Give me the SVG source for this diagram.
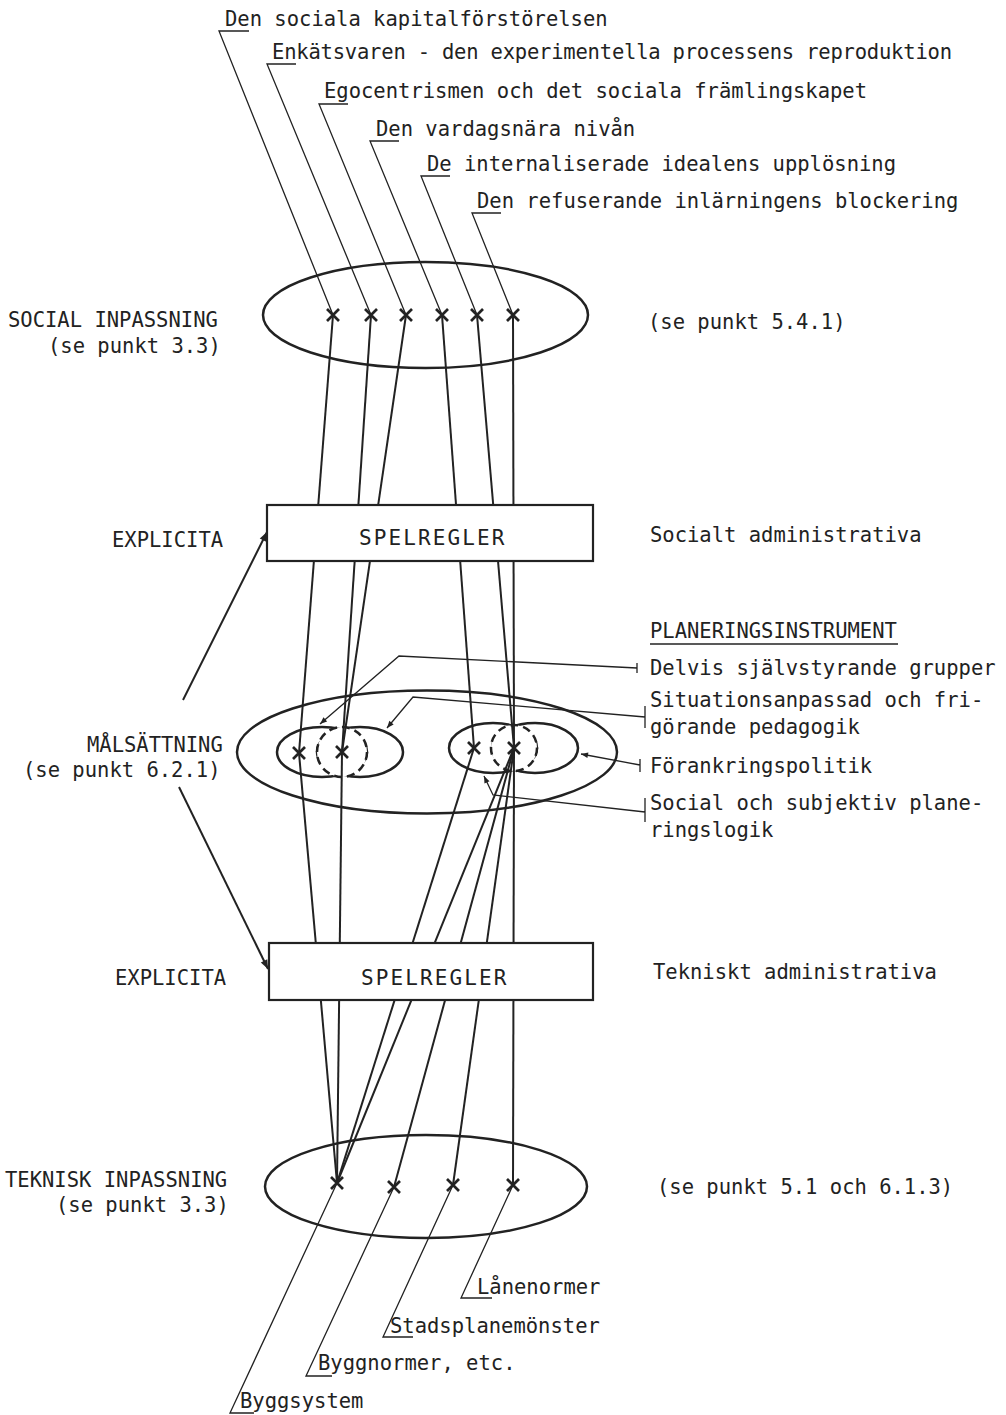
<svg xmlns="http://www.w3.org/2000/svg" xmlns:xlink="http://www.w3.org/1999/xlink" width="1006" height="1415" viewBox="0 0 1006 1415">
<style>
.t{font-family:"DejaVu Sans Mono","Liberation Mono",monospace;font-size:20.5px;fill:#222}
.sp{font-family:"DejaVu Sans Mono","Liberation Mono",monospace;font-size:21px;letter-spacing:2.1px;fill:#222}
.ln{stroke:#222;stroke-width:2;fill:none}
.th{stroke:#222;stroke-width:1.3;fill:none}
.el{stroke:#222;stroke-width:2.5;fill:none}
.dash{stroke-dasharray:8 5}
.box{stroke:#222;stroke-width:2.2;fill:#fff}
.xm{stroke:#222;stroke-width:2.7;fill:none}
</style>
<defs>
<path id="x" d="M-6,-6 L6,6 M6,-6 L-6,6"/>
<marker id="ah" viewBox="0 0 10 10" refX="10" refY="5" markerWidth="12" markerHeight="9" markerUnits="userSpaceOnUse" orient="auto"><path d="M0,1 L10,5 L0,9 z" fill="#222"/></marker>
<marker id="ahs" viewBox="0 0 10 10" refX="10" refY="5" markerWidth="10" markerHeight="7" markerUnits="userSpaceOnUse" orient="auto"><path d="M0,1 L10,5 L0,9 z" fill="#222"/></marker>
<mask id="mL" maskUnits="userSpaceOnUse" x="0" y="0" width="1006" height="1415"><rect width="1006" height="1415" fill="#fff"/><circle cx="342" cy="752" r="25" fill="#000"/></mask>
<mask id="mR" maskUnits="userSpaceOnUse" x="0" y="0" width="1006" height="1415"><rect width="1006" height="1415" fill="#fff"/><circle cx="514" cy="748" r="23" fill="#000"/></mask>
</defs>
<rect width="1006" height="1415" fill="#fff"/>

<g id="connectors">
  <!-- top leaders -->
  <path class="th" d="M249,31 H219 L333,315"/>
  <path class="th" d="M296,64 H267 L371,315"/>
  <path class="th" d="M348,104 H319 L406,315"/>
  <path class="th" d="M399,141 H370 L442,315"/>
  <path class="th" d="M450,176 H421 L477,315"/>
  <path class="th" d="M501,213 H472 L513,315"/>
  <!-- social to malsattning -->
  <path class="ln" d="M333,315 L299,753"/>
  <path class="ln" d="M371,315 L342,752"/>
  <path class="ln" d="M406,315 L342,752"/>
  <path class="ln" d="M442,315 L474,748"/>
  <path class="ln" d="M477,315 L514,748"/>
  <path class="ln" d="M513,315 L514,748"/>
  <!-- malsattning to teknisk -->
  <path class="ln" d="M299,753 L337,1183"/>
  <path class="ln" d="M342,752 L337,1183"/>
  <path class="ln" d="M474,748 L337,1183"/>
  <path class="ln" d="M514,748 L337,1183"/>
  <path class="ln" d="M514,748 L394,1187"/>
  <path class="ln" d="M514,748 L453,1185"/>
  <path class="ln" d="M514,748 L513,1185"/>
  <!-- bottom leaders -->
  <path class="th" d="M337,1183 L230,1413 H254"/>
  <path class="th" d="M394,1187 L306,1376 H332"/>
  <path class="th" d="M453,1185 L383,1337 H413"/>
  <path class="th" d="M513,1185 L461,1298 H492"/>
  <!-- planeringsinstrument leaders -->
  <path class="th" d="M637,663 V673 M637,668 L399,656 L320,724" marker-end="url(#ahs)"/>
  <path class="th" d="M645,706 V728 M645,717 L413,697 L387,728" marker-end="url(#ahs)"/>
  <path class="th" d="M640,759 V772 M640,765 L581,754" marker-end="url(#ahs)"/>
  <path class="th" d="M645,798 V822 M645,812 L493,795 L484,776" marker-end="url(#ahs)"/>
  <!-- malsattning arrows -->
  <path class="ln" d="M183,700 L267,532" marker-end="url(#ah)"/>
  <path class="ln" d="M179,787 L268,969" marker-end="url(#ah)"/>
</g>

<g id="top-labels">
  <text class="t" x="225" y="26">Den sociala kapitalförstörelsen</text>
  <text class="t" x="272" y="59" textLength="680" lengthAdjust="spacing">Enkätsvaren - den experimentella processens reproduktion</text>
  <text class="t" x="324" y="98">Egocentrismen och det sociala främlingskapet</text>
  <text class="t" x="376" y="136">Den vardagsnära nivån</text>
  <text class="t" x="427" y="171">De internaliserade idealens upplösning</text>
  <text class="t" x="477" y="208">Den refuserande inlärningens blockering</text>
</g>

<g id="social-inpassning">
  <ellipse class="el" cx="425.5" cy="315" rx="162.5" ry="53"/>
  <use xlink:href="#x" href="#x" class="xm" x="333" y="315"/>
  <use xlink:href="#x" href="#x" class="xm" x="371" y="315"/>
  <use xlink:href="#x" href="#x" class="xm" x="406" y="315"/>
  <use xlink:href="#x" href="#x" class="xm" x="442" y="315"/>
  <use xlink:href="#x" href="#x" class="xm" x="477" y="315"/>
  <use xlink:href="#x" href="#x" class="xm" x="513" y="315"/>
  <text class="t" x="8" y="327">SOCIAL INPASSNING</text>
  <text class="t" x="48" y="353">(se punkt 3.3)</text>
  <text class="t" x="648" y="329">(se punkt 5.4.1)</text>
</g>

<g id="spelregler-social">
  <rect class="box" x="267" y="505" width="326" height="56"/>
  <text class="sp" x="359" y="545">SPELREGLER</text>
  <text class="t" x="112" y="547">EXPLICITA</text>
  <text class="t" x="650" y="542">Socialt administrativa</text>
</g>

<g id="malsattning">
  <ellipse class="el" cx="427" cy="752" rx="190" ry="61.5"/>
  <g mask="url(#mL)">
    <ellipse class="el" cx="322" cy="752" rx="45" ry="25"/>
    <ellipse class="el" cx="360" cy="752" rx="43" ry="25"/>
  </g>
  <circle class="el dash" cx="342" cy="752" r="25"/>
  <g mask="url(#mR)">
    <ellipse class="el" cx="493" cy="748" rx="44" ry="25"/>
    <ellipse class="el" cx="535" cy="748" rx="43" ry="25"/>
  </g>
  <circle class="el dash" cx="514" cy="748" r="23"/>
  <use xlink:href="#x" href="#x" class="xm" x="299" y="753"/>
  <use xlink:href="#x" href="#x" class="xm" x="342" y="752"/>
  <use xlink:href="#x" href="#x" class="xm" x="474" y="748"/>
  <use xlink:href="#x" href="#x" class="xm" x="514" y="748"/>
  <text class="t" x="87" y="752">MÅLSÄTTNING</text>
  <text class="t" x="23" y="777">(se punkt 6.2.1)</text>
</g>

<g id="planeringsinstrument">
  <text class="t" x="650" y="638">PLANERINGSINSTRUMENT</text>
  <line class="th" x1="650" y1="644" x2="898" y2="644"/>
  <text class="t" x="650" y="675">Delvis självstyrande grupper</text>
  <text class="t" x="650" y="707">Situationsanpassad och fri-</text>
  <text class="t" x="650" y="734">görande pedagogik</text>
  <text class="t" x="650" y="773">Förankringspolitik</text>
  <text class="t" x="650" y="810">Social och subjektiv plane-</text>
  <text class="t" x="650" y="837">ringslogik</text>
</g>

<g id="spelregler-teknisk">
  <rect class="box" x="269" y="943" width="324" height="57"/>
  <text class="sp" x="361" y="985">SPELREGLER</text>
  <text class="t" x="115" y="985">EXPLICITA</text>
  <text class="t" x="653" y="979">Tekniskt administrativa</text>
</g>

<g id="teknisk-inpassning">
  <ellipse class="el" cx="426" cy="1186.5" rx="161" ry="51.5"/>
  <use xlink:href="#x" href="#x" class="xm" x="337" y="1183"/>
  <use xlink:href="#x" href="#x" class="xm" x="394" y="1187"/>
  <use xlink:href="#x" href="#x" class="xm" x="453" y="1185"/>
  <use xlink:href="#x" href="#x" class="xm" x="513" y="1185"/>
  <text class="t" x="5" y="1187">TEKNISK INPASSNING</text>
  <text class="t" x="56" y="1212">(se punkt 3.3)</text>
  <text class="t" x="657" y="1194">(se punkt 5.1 och 6.1.3)</text>
</g>

<g id="bottom-labels">
  <text class="t" x="477" y="1294">Lånenormer</text>
  <text class="t" x="390" y="1333">Stadsplanemönster</text>
  <text class="t" x="318" y="1370">Byggnormer, etc.</text>
  <text class="t" x="240" y="1408">Byggsystem</text>
</g>
</svg>
